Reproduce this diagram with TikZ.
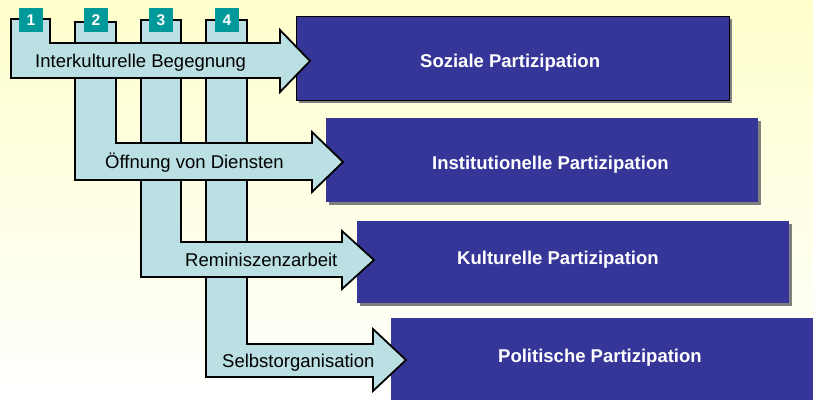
\documentclass[tikz,border=0pt]{standalone}
\usepackage{fontspec}
\setmainfont{Liberation Sans}
\definecolor{bgtop}{RGB}{255,255,204}
\definecolor{boxblue}{RGB}{54,54,153}
\definecolor{arrowfill}{RGB}{187,224,227}
\definecolor{numteal}{RGB}{0,153,153}
\definecolor{shadowgray}{RGB}{128,128,128}
\tikzset{
  arw/.style={draw=black, line width=1.8pt, fill=arrowfill, line join=miter},
  boxst/.style={fill=boxblue},
  boxshadow/.style={fill=shadowgray},
  arrowlabel/.style={anchor=base west, inner sep=0pt, text=black, font=\fontsize{18.5}{22}\selectfont},
  boxlabel/.style={anchor=base west, inner sep=0pt, text=white, font=\fontsize{18.5}{22}\selectfont\bfseries},
  numbox/.style={fill=numteal, text=white, minimum width=24pt, minimum height=24pt, inner sep=0pt, font=\fontsize{15.5}{18}\selectfont\bfseries}
}
\begin{document}
\begin{tikzpicture}[x=1pt,y=-1pt]
\useasboundingbox (0,0) rectangle (813,399);
\clip (0,0) rectangle (813,399);
\shade[top color=bgtop, bottom color=white] (0,0) rectangle (813,399);
% boxes
\fill[boxshadow] (299,19) rectangle (732,103);
\draw[boxst, draw=black, line width=1pt] (296,16) rectangle (729,100);
\fill[boxshadow] (329,121) rectangle (761,205);
\fill[boxst] (326,118) rectangle (758,202);
\fill[boxshadow] (360,224) rectangle (792,306);
\fill[boxst] (357,221) rectangle (789,303);
\fill[boxst] (391,318) rectangle (830,420);
\node[boxlabel] (t1) at (420,67) {Soziale Partizipation};
\node[boxlabel] (t2) at (432,169) {Institutionelle Partizipation};
\node[boxlabel] (t3) at (457,264) {Kulturelle Partizipation};
\node[boxlabel] (t4) at (498,362) {Politische Partizipation};
% arrows
\draw[arw] (206,20) -- (247,20) -- (247,344) -- (373,344) -- (373,329) -- (406,360) -- (373,391) -- (373,377) -- (206,377) -- cycle;
\draw[arw] (141,20) -- (181,20) -- (181,242) -- (342,242) -- (342,231) -- (374,260) -- (342,289) -- (342,277) -- (141,277) -- cycle;
\draw[arw] (75,22) -- (116,22) -- (116,143) -- (312,143) -- (312,132) -- (343,162) -- (312,192) -- (312,180) -- (75,180) -- cycle;
\draw[arw] (11,19) -- (50,19) -- (50,43) -- (280,43) -- (280,30) -- (310,61) -- (280,92) -- (280,78) -- (11,78) -- cycle;
\node[arrowlabel] (a1) at (35,67) {Interkulturelle Begegnung};
\node[arrowlabel] (a2) at (105,168) {Öffnung von Diensten};
\node[arrowlabel] (a3) at (185,266) {Reminiszenzarbeit};
\node[arrowlabel] (a4) at (222,367) {Selbstorganisation};
% number squares
\node[numbox] (n1) at (31,20) {1};
\node[numbox] (n2) at (96,20) {2};
\node[numbox] (n3) at (161,20) {3};
\node[numbox] (n4) at (227,20) {4};
\end{tikzpicture}
\end{document}
